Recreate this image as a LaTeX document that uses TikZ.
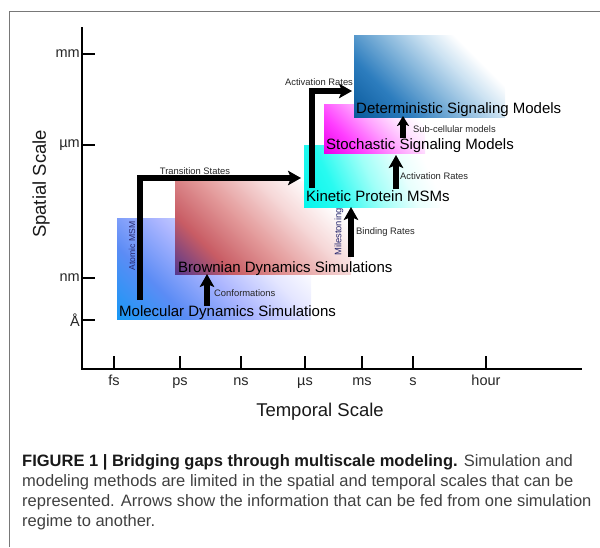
\documentclass[tikz,border=0pt]{standalone}
\usepackage{fontspec}
\setmainfont{Liberation Sans}
\usetikzlibrary{arrows.meta}

% colours of the five method regions (strong corner -> paler -> white)
\definecolor{mdA}{RGB}{26,152,245}
\definecolor{mdB}{RGB}{92,140,245}
\definecolor{mdC}{RGB}{172,182,255}
\definecolor{mdD}{RGB}{228,230,255}
\definecolor{bdA}{RGB}{88,56,140}
\definecolor{bdB}{RGB}{200,92,100}
\definecolor{bdC}{RGB}{228,156,156}
\definecolor{bdD}{RGB}{246,216,216}
\definecolor{kpA}{RGB}{0,245,235}
\definecolor{kpB}{RGB}{40,250,240}
\definecolor{kpC}{RGB}{160,255,248}
\definecolor{kpD}{RGB}{232,255,253}
\definecolor{ssA}{RGB}{235,0,235}
\definecolor{ssB}{RGB}{255,60,255}
\definecolor{ssC}{RGB}{255,160,255}
\definecolor{ssD}{RGB}{255,226,255}
\definecolor{dsA}{RGB}{10,90,156}
\definecolor{dsB}{RGB}{45,125,190}
\definecolor{dsC}{RGB}{130,180,218}
\definecolor{dsD}{RGB}{204,226,242}
\definecolor{framegray}{RGB}{120,120,120}
\definecolor{captiongray}{RGB}{64,64,64}
\definecolor{navylabel}{RGB}{40,40,110}

% diagonal fades, strongest colour in the lower-left corner
\pgfdeclarehorizontalshading{mdfade}{100bp}{color(0bp)=(mdA); color(15bp)=(mdA); color(32bp)=(mdB); color(48bp)=(mdC); color(62bp)=(mdD); color(74bp)=(white); color(100bp)=(white)}
\pgfdeclarehorizontalshading{bdfade}{100bp}{color(0bp)=(bdA); color(15bp)=(bdA); color(30bp)=(bdB); color(46bp)=(bdC); color(61bp)=(bdD); color(74bp)=(white); color(100bp)=(white)}
\pgfdeclarehorizontalshading{kpfade}{100bp}{color(0bp)=(kpA); color(15bp)=(kpA); color(32bp)=(kpB); color(49bp)=(kpC); color(63bp)=(kpD); color(74bp)=(white); color(100bp)=(white)}
\pgfdeclarehorizontalshading{ssfade}{100bp}{color(0bp)=(ssA); color(15bp)=(ssA); color(32bp)=(ssB); color(50bp)=(ssC); color(64bp)=(ssD); color(76bp)=(white); color(100bp)=(white)}
\pgfdeclarehorizontalshading{dsfade}{100bp}{color(0bp)=(dsA); color(15bp)=(dsA); color(32bp)=(dsB); color(47bp)=(dsC); color(60bp)=(dsD); color(70bp)=(white); color(100bp)=(white)}

\tikzset{
  region/.style={shade, shading angle=45, inner sep=0pt, outer sep=0pt, anchor=north west},
  axisline/.style={line width=2.6pt, black},
  tickline/.style={line width=2.4pt, black},
  ticklabel/.style={font=\fontsize{14.5}{16}\selectfont, text=black!85, inner sep=1pt},
  axistitle/.style={font=\fontsize{18.5}{20}\selectfont, text=black!90},
  boxlabel/.style={font=\fontsize{15}{17}\selectfont, text=black, inner sep=0pt, anchor=base west},
  flowlabel/.style={font=\fontsize{9.4}{11}\selectfont, text=black!85, inner sep=0pt},
  sidelabel/.style={font=\fontsize{8.6}{10}\selectfont, text=navylabel, inner sep=0pt, rotate=90},
  feed/.style={line width=5.6pt, line join=miter, black,
    -{Stealth[length=13pt, width=14.5pt, inset=3pt]}},
  captionline/.style={font=\fontsize{16.5}{20}\selectfont, text=captiongray, inner sep=0pt, anchor=base west},
}

\begin{document}
\begin{tikzpicture}[x=1pt, y=-1pt]
\useasboundingbox (0,0) rectangle (600,547);

% figure frame (open on the right and at the bottom)
\draw[framegray, line width=1.2pt] (9.5,547) -- (9.5,11.5) -- (600,11.5);

% axes
\draw[axisline] (82,27) -- (82,369) -- (582,369);

% spatial ticks
\foreach \yy/\lab/\nm in {54/mm/ymm, 145/µm/yum, 278/nm/ynm, 320/Å/yA} {
  \draw[tickline] (82,\yy) -- (95,\yy);
  \node[ticklabel, anchor=east] (\nm) at (81,\yy) {\lab};
}
% temporal ticks
\foreach \xx/\lab/\nm in {114/fs/tfs, 180/ps/tps, 241/ns/tns, 305/µs/tus, 362/ms/tms, 413/s/ts, 486/hour/thour} {
  \draw[tickline] (\xx,356) -- (\xx,369);
  \node[ticklabel, anchor=base] (\nm) at (\xx,385) {\lab};
}

\node[axistitle, rotate=90] (spatial) at (41,184) {Spatial Scale};
\node[axistitle] (temporal) at (320,412) {Temporal Scale};

% method regions, back to front
\node[region, shading=mdfade, minimum width=194pt, minimum height=101pt] (md) at (117,218) {};
\node[region, shading=bdfade, minimum width=176pt, minimum height=93pt] (bd) at (175,181) {};
\node[region, shading=kpfade, shading angle=25, minimum width=136pt, minimum height=62pt] (kp) at (304,145) {};
\node[region, shading=ssfade, minimum width=101pt, minimum height=49pt] (ss) at (324,104) {};
\node[region, shading=dsfade, minimum width=151pt, minimum height=82pt] (ds) at (354,35) {};

% arrow end points
\coordinate (tsStart) at (140,300);
\coordinate (tsBend) at (140,178);
\coordinate (tsEnd) at (301,178);
\coordinate (cfStart) at (207,306);
\coordinate (cfEnd) at (207,274);
\coordinate (brStart) at (351,257);
\coordinate (brEnd) at (351,207);
\coordinate (arStart) at (312,188);
\coordinate (arBend) at (312,91);
\coordinate (arEnd) at (352,91);
\coordinate (acStart) at (396,189);
\coordinate (acEnd) at (396,155);
\coordinate (scStart) at (403,138);
\coordinate (scEnd) at (403,116);

% information flow between methods
\draw[feed] (tsStart) -- (tsBend) -- (tsEnd);
\draw[feed] (cfStart) -- (cfEnd);
\draw[feed] (brStart) -- (brEnd);
\draw[feed] (arStart) -- (arBend) -- (arEnd);
\draw[feed] (acStart) -- (acEnd);
\draw[feed, -{Stealth[length=10pt, width=12pt, inset=2.5pt]}] (scStart) -- (scEnd);

% method names
\node[boxlabel] (mdname) at (119,316) {Molecular Dynamics Simulations};
\node[boxlabel] (bdname) at (178,272) {Brownian Dynamics Simulations};
\node[boxlabel] (kpname) at (306,201) {Kinetic Protein MSMs};
\node[boxlabel] (ssname) at (326,149.5) {Stochastic Signaling Models};
\node[boxlabel] (dsname) at (356,113) {Deterministic Signaling Models};

% what each arrow carries
\node[flowlabel, anchor=base] (tslab) at (195,174.5) {Transition States};
\node[flowlabel, anchor=base west] (cflab) at (214,296) {Conformations};
\node[flowlabel, anchor=base west] (brlab) at (356,234) {Binding Rates};
\node[flowlabel, anchor=base] (arlab) at (319,85) {Activation Rates};
\node[flowlabel, anchor=base west] (aclab) at (400,179) {Activation Rates};
\node[flowlabel, anchor=base west] (sclab) at (413,132) {Sub-cellular models};
\node[sidelabel] (amsm) at (132,246) {Atomic MSM};
\node[sidelabel, font=\fontsize{9.4}{11}\selectfont] (mile) at (339,232) {Milestoning};

% caption
\node[captionline] (cap1) at (22,466) {\textbf{\color{black!90}FIGURE 1 | Bridging gaps through multiscale modeling.} Simulation and};
\node[captionline] (cap2) at (22,486) {modeling methods are limited in the spatial and temporal scales that can be};
\node[captionline] (cap3) at (22,506) {represented. Arrows show the information that can be fed from one simulation};
\node[captionline] (cap4) at (22,526) {regime to another.};
\end{tikzpicture}
\end{document}
